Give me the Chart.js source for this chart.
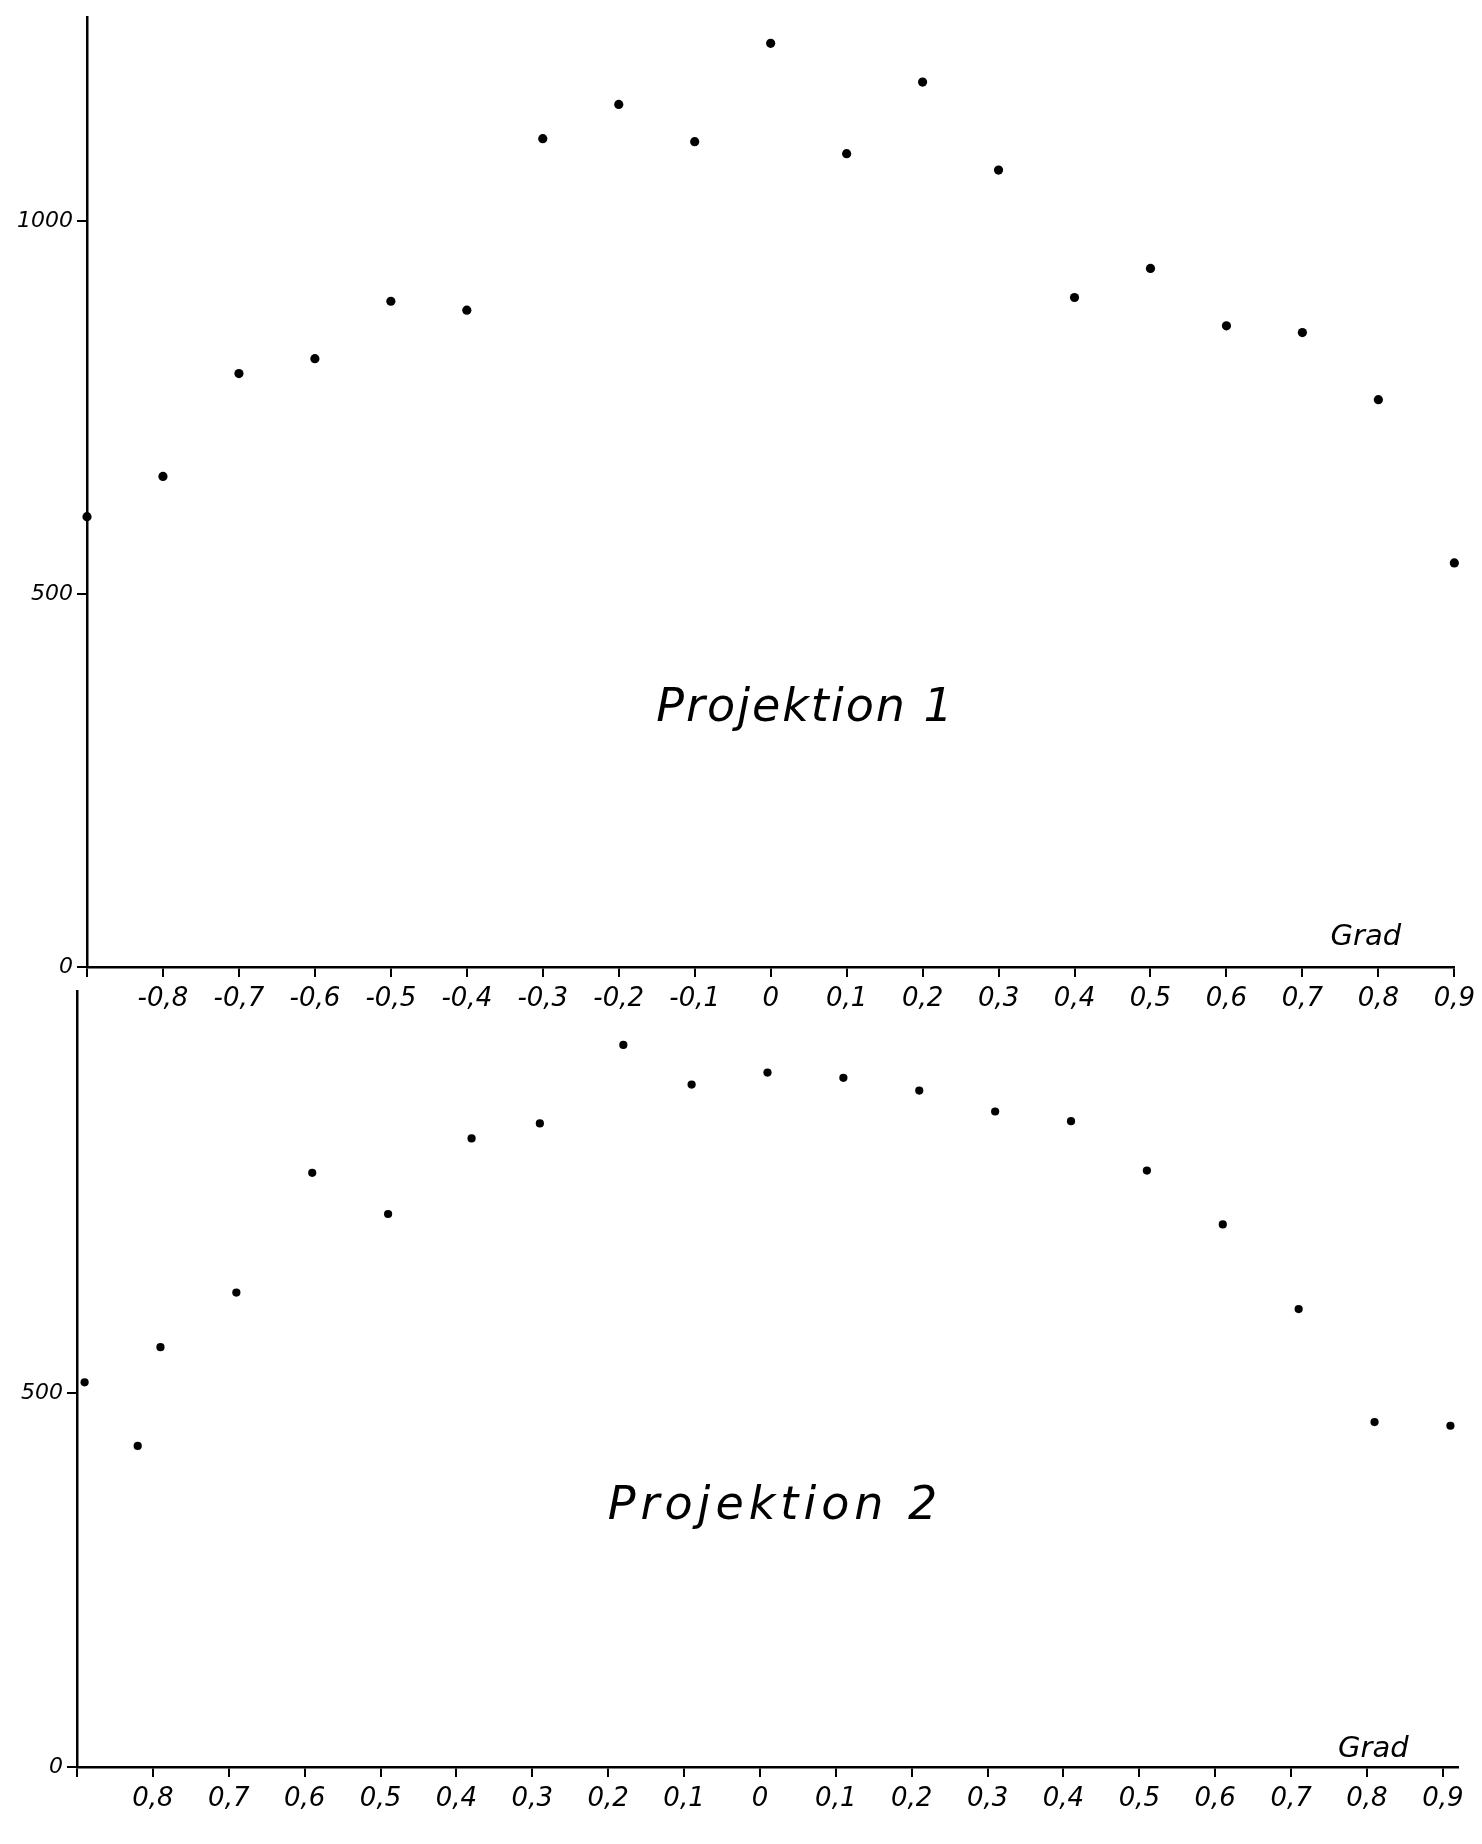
<!DOCTYPE html>
<html>
<head>
<meta charset="utf-8">
<script src="https://cdn.jsdelivr.net/npm/chart.js@4/dist/chart.umd.min.js"></script>
<style>
    html, body { margin: 0; padding: 0; background: #fff; }
    #wrap { position: relative; width: 1482px; height: 1844px; overflow: hidden; }
    canvas { position: absolute; left: 0; }
    #proj1 { top: 0; }
    #proj2 { top: 960px; }
</style>
</head>
<body>
<div id="wrap">
    <canvas id="proj1" width="1482" height="1040"></canvas>
    <canvas id="proj2" width="1482" height="884"></canvas>
</div>
<script>
// Grad positions of the x ticks, shared by both plots
const gradTicks = [-0.9, -0.8, -0.7, -0.6, -0.5, -0.4, -0.3, -0.2, -0.1, 0, 0.1, 0.2, 0.3, 0.4, 0.5, 0.6, 0.7, 0.8, 0.9];
const topTickLabels = ['', '-0,8', '-0,7', '-0,6', '-0,5', '-0,4', '-0,3', '-0,2', '-0,1', '0', '0,1', '0,2', '0,3', '0,4', '0,5', '0,6', '0,7', '0,8', '0,9'];
const bottomTickLabels = ['', '0,8', '0,7', '0,6', '0,5', '0,4', '0,3', '0,2', '0,1', '0', '0,1', '0,2', '0,3', '0,4', '0,5', '0,6', '0,7', '0,8', '0,9'];
const yTicks1 = [0, 500, 1000];
const yTicks2 = [0, 500];

// Projektion 1
const proj1Grad = [-0.9, -0.8, -0.7, -0.6, -0.5, -0.4, -0.3, -0.2, -0.1, 0, 0.1, 0.2, 0.3, 0.4, 0.5, 0.6, 0.7, 0.8, 0.9];
const proj1Values = [604, 658, 796, 816, 893, 881, 1111, 1157, 1107, 1239, 1091, 1187, 1069, 898, 937, 860, 851, 761, 542];

// Projektion 2
const proj2Grad = [-0.89, -0.82, -0.79, -0.69, -0.59, -0.49, -0.38, -0.29, -0.18, -0.09, 0.01, 0.11, 0.21, 0.31, 0.41, 0.51, 0.61, 0.71, 0.81, 0.91];
const proj2Values = [514, 429, 561, 634, 794, 739, 840, 860, 965, 912, 928, 921, 904, 876, 863, 797, 725, 612, 461, 456];

const FONT = "'DejaVu Sans', sans-serif";

// draws free text (title, axis unit) at data coordinates
const textPlugin = {
    id: 'freeText',
    afterDraw(chart, args, opts) {
        const ctx = chart.ctx;
        const xs = chart.scales.x, ys = chart.scales.y;
        (opts.items || []).forEach(item => {
            ctx.save();
            ctx.fillStyle = '#000';
            ctx.font = 'italic ' + item.size + 'px ' + FONT;
            ctx.textAlign = item.align || 'left';
            ctx.textBaseline = 'alphabetic';
            if ('letterSpacing' in ctx) ctx.letterSpacing = (item.spacing || 0) + 'px';
            ctx.fillText(item.text, xs.getPixelForValue(item.x), ys.getPixelForValue(item.y));
            ctx.restore();
        });
    }
};

function makeChart(id, grad, values, tickLabels, yTicks, xMax, yMax, box, texts) {
    const points = grad.map((g, i) => ({ x: g, y: values[i] }));
    return new Chart(document.getElementById(id), {
        type: 'scatter',
        data: {
            datasets: [{
                data: points,
                pointRadius: box.dot,
                pointBackgroundColor: '#000',
                pointBorderWidth: 0,
                clip: false
            }]
        },
        options: {
            responsive: false,
            animation: false,
            layout: { padding: { top: box.top, right: box.right, left: 0, bottom: 0 } },
            scales: {
                x: {
                    type: 'linear',
                    min: -0.9,
                    max: xMax,
                    afterBuildTicks: axis => { axis.ticks = gradTicks.map(v => ({ value: v })); },
                    afterFit: axis => { axis.height = box.xHeight; },
                    border: { display: true, color: '#000', width: 2.5 },
                    grid: { drawOnChartArea: false, drawTicks: true, tickLength: 10, color: '#000', lineWidth: 2 },
                    ticks: {
                        autoSkip: false,
                        maxRotation: 0,
                        padding: 7,
                        color: '#000',
                        font: { family: FONT, size: 26, style: 'italic' },
                        callback: (value, index) => tickLabels[index]
                    }
                },
                y: {
                    type: 'linear',
                    min: 0,
                    max: yMax,
                    afterBuildTicks: axis => { axis.ticks = yTicks.map(v => ({ value: v })); },
                    afterFit: axis => { axis.width = box.yWidth; },
                    border: { display: true, color: '#000', width: 2.5 },
                    grid: { drawOnChartArea: false, drawTicks: true, tickLength: 10, color: '#000', lineWidth: 2 },
                    ticks: {
                        padding: 4,
                        color: '#000',
                        font: { family: FONT, size: 22, style: 'italic' },
                        callback: value => String(value)
                    }
                }
            },
            plugins: {
                legend: { display: false },
                tooltip: { enabled: false },
                freeText: { items: texts }
            }
        },
        plugins: [textPlugin]
    });
}

makeChart('proj1', proj1Grad, proj1Values, topTickLabels, yTicks1, 0.9, 1274,
    { top: 12, right: 25, yWidth: 87, xHeight: 73, dot: 4.6 },
    [
        { text: 'Projektion 1', x: 0.046, y: 330, size: 46, align: 'center', spacing: 2 },
        { text: 'Grad', x: 0.737, y: 30, size: 29 }
    ]);

makeChart('proj2', proj2Grad, proj2Values, bottomTickLabels, yTicks2, 0.92, 1037,
    { top: 31, right: 24, yWidth: 77, xHeight: 77, dot: 4.1 },
    [
        { text: 'Projektion 2', x: 0.02, y: 332, size: 46, align: 'center', spacing: 5 },
        { text: 'Grad', x: 0.762, y: 14, size: 29 }
    ]);
</script>
</body>
</html>
